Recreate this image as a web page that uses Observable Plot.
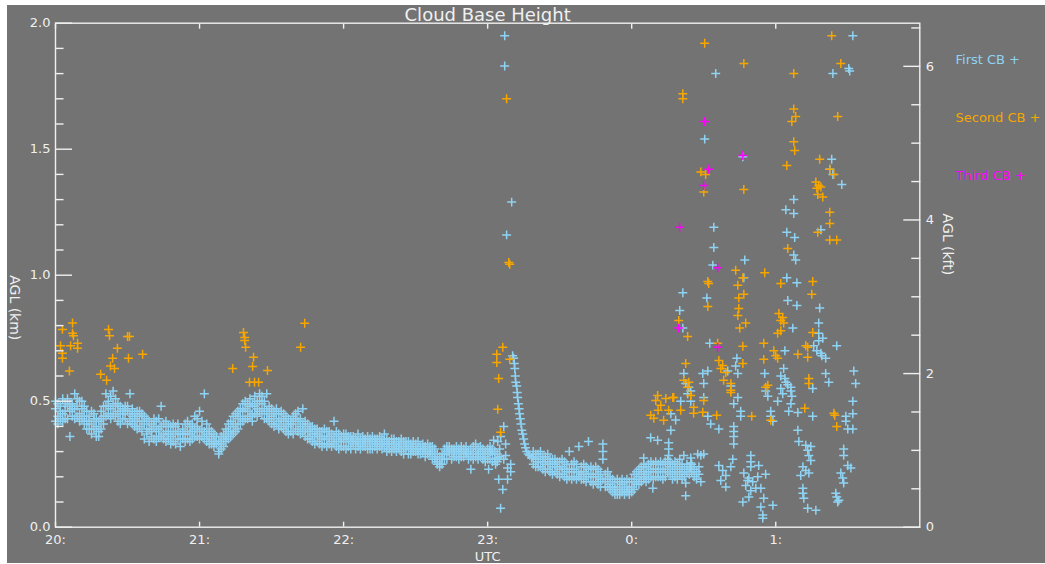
<!DOCTYPE html>
<html>
<head>
<meta charset="utf-8">
<script src="https://cdn.jsdelivr.net/npm/d3@7"></script>
<script src="https://cdn.jsdelivr.net/npm/@observablehq/plot@0.6"></script>
<style>
  html, body { margin: 0; background: #ffffff; }
  #chart { position: absolute; left: 7px; top: 5px; width: 1038px; height: 558px; background: #737373; }
  #chart svg { display: block; }
</style>
</head>
<body>
<div id="chart"></div>
<script>
// Ceilometer cloud-base heights. Time is minutes after 20:00 UTC, height is km AGL.

// Steady first cloud base: each row is [minute, readings logged in that minute...]
const firstCBRows = [
  [0,.47,.42,.50],[1,.44,.49,.41],[2,.48,.43,.46],[3,.51,.45,.42],[4,.46,.43,.49],
  [5,.43,.48,.51],[6,.46,.36,.49],[7,.49,.44,.47],[8,.53,.47,.43],[9,.48,.51,.44],
  [10,.45,.50,.42],[11,.47,.43,.50],[12,.44,.48,.41],[13,.46,.42,.39],[14,.44,.39,.42],
  [15,.41,.37,.46],[16,.43,.39,.45],[17,.40,.36,.43],[18,.38,.42,.36],[19,.43,.39,.46],
  [20,.44,.48,.41],[21,.48,.53,.44],[22,.50,.45,.48],[23,.47,.52,.43],[24,.54,.49,.45],
  [25,.48,.44,.51],[26,.46,.42,.49],[27,.45,.48,.41],[28,.47,.43,.45],[29,.43,.48,.46],
  [30,.46,.41,.48],[31,.53,.45,.42],[32,.44,.47,.41],[33,.45,.40,.43],[34,.42,.46,.39],
  [35,.44,.40,.46],[36,.42,.45,.38],[37,.41,.35,.44],[38,.39,.37,.43],[39,.42,.34,.39],
  [40,.38,.41,.36],[41,.40,.35,.43],[42,.38,.42,.34],[43,.39,.43,.36],[44,.48,.40,.36],
  [45,.37,.41,.35],[46,.38,.42,.34],[47,.40,.35,.37],[48,.36,.40,.33],[49,.38,.34,.41],
  [50,.37,.40,.33],[51,.35,.38,.41],[52,.32,.37,.35],[53,.39,.35,.37],[54,.34,.37,.41],
  [55,.38,.35,.42],[56,.37,.40,.34],[57,.41,.38,.35],[58,.44,.39,.36],[59,.40,.36,.43],
  [60,.46,.38,.35],[61,.39,.36,.42],[62,.53,.38,.35],[63,.37,.41,.34],[64,.36,.33,.39],
  [65,.35,.38,.33],[66,.34,.37,.32],[67,.36,.33,.34],[68,.30,.34,.29],[69,.33,.36,.31],
  [70,.35,.32,.37],[71,.36,.34,.39],[72,.38,.35,.41],[73,.38,.42,.36],[74,.40,.37,.44],
  [75,.41,.45,.38],[76,.43,.39,.46],[77,.44,.41,.47],[78,.46,.42,.49],[79,.43,.47,.50],
  [80,.46,.43,.49],[81,.48,.44,.51],[82,.45,.49,.42],[83,.48,.45,.52],[84,.47,.50,.44],
  [85,.50,.53,.46],[86,.49,.45,.52],[87,.47,.43,.50],[88,.53,.46,.43],[89,.45,.42,.48],
  [90,.44,.47,.41],[91,.43,.46,.40],[92,.45,.41,.47],[93,.42,.45,.39],[94,.43,.40,.46],
  [95,.42,.39,.45],[96,.41,.44,.38],[97,.40,.43,.37],[98,.42,.38,.41],[99,.41,.44,.37],
  [100,.43,.39,.45],[101,.42,.46,.38],[102,.40,.43,.37],[103,.47,.41,.38],[104,.39,.42,.36],
  [105,.38,.41,.35],[106,.38,.35,.40],[107,.37,.40,.34],[108,.36,.39,.33],[109,.37,.34,.39],
  [110,.36,.33,.38],[111,.35,.38,.32],[112,.36,.33,.39],[113,.35,.38,.32],[114,.36,.33,.38],
  [115,.37,.34,.32],[116,.42,.36,.33],[117,.35,.38,.32],[118,.34,.37,.31],[119,.36,.34,.32],
  [120,.35,.32,.37],[121,.34,.37,.31],[122,.35,.32,.36],[123,.34,.31,.36],[124,.33,.36,.34],
  [125,.35,.31,.34],[126,.34,.37,.32],[127,.33,.35,.31],[128,.34,.36,.32],[129,.35,.32,.34],
  [130,.34,.31,.36],[131,.33,.35,.31],[132,.34,.31,.36],[133,.35,.32,.34],[134,.33,.35,.31],
  [135,.34,.32,.36],[136,.33,.35,.31],[137,.37,.34,.32],[138,.33,.30,.35],[139,.34,.31,.33],
  [140,.32,.35,.30],[141,.33,.31,.35],[142,.32,.34,.30],[143,.31,.34,.32],[144,.33,.30,.35],
  [145,.32,.29,.34],[146,.31,.34,.32],[147,.32,.29,.34],[148,.31,.33,.29],[149,.32,.30,.34],
  [150,.30,.33,.31],[151,.31,.34,.29],[152,.32,.29,.31],[153,.30,.33,.31],[154,.31,.28,.32],
  [155,.30,.33,.29],[156,.29,.32,.30],[157,.30,.27,.32],[158,.28,.31,.27],[159,.26,.29,.25],
  [160,.25,.28,.24],[161,.27,.29,.25],[162,.29,.27,.31],[163,.30,.27,.32],[164,.29,.32,.30],
  [165,.30,.27,.31],[166,.31,.28,.30],[167,.30,.32,.28],[168,.29,.31,.27],[169,.30,.28,.32],
  [170,.31,.28,.30],[171,.29,.32,.30],[172,.30,.27,.29],[173,.23,.31,.28],[174,.29,.32,.27],
  [175,.33,.30,.28],[176,.29,.31,.27],[177,.30,.28,.32],[178,.29,.31,.27],[179,.28,.30,.26],
  [180,.29,.27,.31],[181,.30,.27,.32],[182,.29,.31,.26],[183,.30,.27],[184,.29,.26],[185,.31,.28],
  [199,.28,.25,.30],[200,.27,.24,.29],[201,.26,.29,.24],[202,.27,.24,.30],[203,.26,.23,.28],
  [204,.25,.28,.22],[205,.26,.23,.29],[206,.25,.22,.27],[207,.24,.27,.21],[208,.25,.22,.27],
  [209,.24,.21,.26],[210,.23,.26,.20],[211,.24,.21,.27],[212,.23,.26,.20],[213,.22,.25,.19],
  [214,.30,.23,.20],[215,.22,.25,.19],[216,.23,.20,.26],[217,.22,.19,.25],[218,.32,.22,.20],
  [219,.21,.24,.19],[220,.22,.19,.25],[221,.21,.24,.18],[222,.34,.20,.23],[223,.21,.18,.24],
  [224,.20,.23,.17],[225,.21,.18,.24],[226,.20,.23,.17],[227,.19,.22,.16],[228,.33,.30,.27,.19],
  [229,.18,.21,.16],[230,.19,.16,.22],[231,.17,.20,.15],[232,.16,.19,.14],[233,.15,.18,.13],
  [234,.16,.13,.19],[235,.15,.18,.13],[236,.14,.17,.19],[237,.15,.13,.18],[238,.16,.14,.19],
  [239,.15,.18,.13],[240,.16,.19,.14],[241,.18,.15,.21],[242,.19,.22,.17],[243,.20,.23,.17],
  [244,.21,.18,.24],[245,.22,.19,.25],[246,.21,.24,.18],[247,.22,.25,.19],[248,.23,.20,.26],
  [249,.22,.25,.19],[250,.23,.20,.26],[251,.22,.25,.20],[252,.23,.26,.20],[253,.22,.25,.19],
  [254,.23,.20,.26],[255,.22,.25,.27],[256,.21,.24,.26],[257,.22,.25,.19],[258,.23,.20,.26],
  [259,.22,.25,.19],[260,.21,.24,.27],[261,.22,.25,.19],[262,.23,.20],[263,.22,.25],
  [264,.21,.24],[265,.22,.25],[266,.23,.20],[267,.22,.19],[268,.21,.24]
];

// First cloud base when it breaks up: [minute, km]
const firstCBScattered = [
  [181.3,.30],[182.5,.345],[184.2,.34],[185.4,.36],[186.7,.40],[187.5,.33],[186.7,.27],[188.3,.235],
  [189.6,.22],[188.3,.19],[184.6,.19],[186.3,.15],[185.4,.075],[189.6,.25],[183.3,.25],[180.4,.23],
  [187.5,.285],[184.2,.275],
  [187.1,1.95],[187.1,1.83],[190,1.29],[187.9,1.16],
  [190.4,.68],[190.8,.67],[191.1,.65],[191.3,.63],[191.5,.60],[191.7,.575],[192.1,.56],[192.3,.535],
  [192.5,.515],[192.8,.49],[193.1,.47],[193.3,.45],[193.6,.43],[193.9,.41],[194.2,.385],[194.6,.37],
  [195,.35],[195.4,.33],[195.8,.315],[196.3,.30],[196.9,.29],[197.5,.285],[198.3,.275],
  [256.3,.385],[247.9,.355],[250.8,.345],[255.4,.335],[255.4,.31],[255.4,.285],[261.7,.285],
  [264.6,.275],[264.6,.255],[264.6,.24],[267.5,.29],[245,.275],[245,.24],[245,.20],[262.5,.175],
  [262.5,.125],[248.8,.155],[256.3,.45],[258.3,.425],[260.4,.50],[264.6,.50],
  [275,1.80],[270.4,1.54],[286.3,1.47],[332.1,1.95],[330.4,1.82],[330.8,1.81],[323.8,1.80],
  [323.3,1.46],[322.5,1.42],[323.8,1.40],[327.5,1.36],[307.5,1.30],
  [304.2,1.26],[307.5,1.245],[274.2,1.19],[318.8,1.18],[304.6,1.17],[307.9,1.15],[274.2,1.11],
  [307.5,1.08],[308.3,1.06],[287.1,1.06],[273.8,1.04],[286.7,.99],[304.6,.99],[308.8,.97],
  [261.3,.93],[271.3,.91],[260,.86],[305,.90],[308.8,.88],[318.3,.87],[261.3,.79],[307.1,.79],
  [317.9,.81],[317.9,.77],[317.9,.74],[319.6,.75],[325.4,.72],[315.8,.72],[318.8,.69],[320.8,.67],
  [317.1,.70],[319.2,.68],[272.5,.73],[303.8,.70],[283.8,.67],[283.3,.64],[332.5,.62],[303.3,.63],
  [295.4,.61],[261.7,.61],[269.6,.61],[271.7,.62],[280,.62],[284.2,.61],[302.1,.60],[304.2,.575],
  [306.3,.54],[302.9,.53],[303.8,.59],[305,.565],[320.8,.61],[333.3,.57],[322.1,.575],[262.5,.57],
  [264.6,.54],[263.3,.53],[263.8,.555],[270,.57],[295.8,.54],[315.4,.55],[270,.515],[284.2,.515],
  [281.3,.56],[302.1,.55],[306.3,.555],[306.7,.52],[282.5,.49],[296.7,.52],[300.8,.50],[306.3,.49],
  [271.7,.44],[285.4,.46],[285.4,.44],[297.9,.46],[297.9,.44],[298.8,.42],[305.4,.46],[309.2,.455],
  [315.4,.44],[332.1,.50],[332.1,.45],[329.2,.44],[329.2,.42],[330,.39],[332.1,.39],[272.9,.41],
  [276.3,.39],[282.5,.40],[282.5,.38],[282.5,.36],[282.5,.33],[309.2,.385],[309.6,.34],[312.5,.325],
  [313.3,.305],[313.8,.285],[314.6,.265],[314.6,.32],[328.3,.31],[328.3,.285],[270,.29],[282.1,.27],
  [289.6,.285],[289.6,.26],[289.6,.24],[292.9,.245],[276.3,.245],[277.9,.225],[279.2,.205],
  [277.1,.185],[281.3,.24],[268.8,.18],[279.2,.16],[286.7,.215],[288.8,.195],[290.4,.18],
  [287.5,.165],[291.7,.155],[289.6,.145],[292.5,.20],[288.3,.185],[295.8,.21],[293.8,.155],
  [288.8,.12],[286.3,.10],[295,.115],[293.8,.08],[298.8,.087],[294.6,.048],[294.6,.036],
  [311.3,.24],[312.5,.225],[313.8,.215],[310.4,.205],[311.3,.155],[311.3,.135],[311.7,.115],
  [313.3,.075],[316.7,.067],[330,.245],[331.3,.235],[327.1,.215],[327.9,.195],[328.3,.175],
  [325,.135],[325.4,.12],[326.3,.107],[325.8,.10],[268.8,.285]
];

// Second cloud base: [minute, km]
const secondCB = [
  [7.1,.81],[2.9,.785],[7.1,.77],[7.5,.76],[2.1,.72],[6.3,.72],[9.2,.73],[9.2,.71],[2.9,.69],
  [2.9,.67],[5.8,.62],[22.1,.785],[22.5,.76],[30,.757],[30.8,.757],[25.8,.71],[30.4,.67],
  [36.3,.686],[23.8,.67],[22.9,.64],[24.6,.63],[18.8,.607],[21.3,.583],[78.3,.773],[78.8,.753],
  [78.8,.741],[79.2,.714],[82.5,.674],[82.1,.638],[73.8,.63],[88.3,.622],[80.8,.575],[82.9,.575],
  [84.6,.575],[103.8,.809],[102.1,.714],
  [183.8,.686],[183.8,.654],[186.3,.714],[189.2,.666],[184.6,.59],[184.2,.468],[185.4,.377],
  [188.8,1.05],[189.2,1.043],[187.9,1.70],
  [270.4,1.92],[286.7,1.84],[261.3,1.72],[261.3,1.70],[268.8,1.41],[270.8,1.40],[270,1.33],
  [286.7,1.34],[323.3,1.95],[327.1,1.84],[307.5,1.80],[307.5,1.66],[308.3,1.63],[306.7,1.61],
  [325.8,1.63],[307.5,1.53],[307.9,1.495],[304.6,1.435],[318.3,1.46],[322.5,1.42],[324.2,1.40],
  [316.7,1.37],[317.9,1.356],[318.8,1.35],[317.1,1.345],[317.5,1.32],[319.6,1.31],[322.5,1.25],
  [322.5,1.205],[317.5,1.17],[322.5,1.14],[325.4,1.14],[305,1.106],[283.3,1.02],[295.4,1.01],
  [286.3,.99],[271.7,.975],[272.1,.967],[284.2,.96],[302.1,.967],[315.4,.975],[286.7,.924],
  [284.6,.91],[315,.924],[271.7,.876],[284.6,.868],[284.2,.84],[301.3,.848],[302.9,.832],
  [302.1,.82],[303.3,.81],[300.8,.77],[302.1,.78],[259.6,.82],[287.5,.81],[285,.79],[263.3,.757],
  [315.4,.773],[312.5,.72],[313.3,.714],[275.8,.73],[286.3,.718],[295,.73],[299.2,.70],[300,.68],
  [300.8,.67],[309.2,.686],[313.3,.674],[295,.666],[262.5,.65],[276.3,.662],[277.9,.642],
  [279.2,.614],[277.1,.63],[286.3,.65],[313.8,.59],[313.8,.57],[263.8,.575],[278.3,.583],
  [281.3,.57],[281.3,.543],[296.7,.563],[250.8,.523],[257.5,.515],[281.3,.535],[295.8,.555],
  [270,.503],[269.6,.456],[275.4,.444],[290,.44],[297.9,.424],[312.1,.472],[324.2,.452],
  [324.6,.444],[325.4,.40],[247.9,.444],[253.3,.424],[257.1,.515],[260.4,.464],[265.8,.476],
  [265.8,.452],[261.7,.583],[263.3,.555],[264.6,.523],[250,.503],[252.1,.484],[254.2,.511],
  [255.4,.464],[251,.464],[249.2,.432]
];

// Third cloud base: [minute, km]
const thirdCB = [
  [270.4,1.61],[286.3,1.475],[272.1,1.42],[270,1.356],[260,1.19],[275.8,1.03],[259.6,.79],[275.8,.714]
];

// Axis ticks and labels
const hourTicks = [0, 60, 120, 180, 240, 300];
const hourLabels = ["20:", "21:", "22:", "23:", "0:", "1:"];
const kmTicks = [0, 0.5, 1, 1.5, 2];
const kmMinorTicks = [0.1,0.2,0.3,0.4,0.6,0.7,0.8,0.9,1.1,1.2,1.3,1.4,1.6,1.7,1.8,1.9];
const kftTicks = [0, 2, 4, 6];
const kftMinorTicks = [0.5,1,1.5,2.5,3,3.5,4.5,5,5.5,6.5];
const legendNames = ["First CB +", "Second CB +", "Third CB +"];

const KFT_PER_KM = 3.28084;
const ink = "#f0f0f0";
const colors = ["#8fd3f4", "#f7a600", "#ff00ff"];
const font = "DejaVu Sans, sans-serif";

const toPoint = ([t, h]) => ({t, h});
const first = [
  ...firstCBRows.flatMap(([t, ...hs]) => hs.map(h => ({t, h}))),
  ...firstCBScattered.map(toPoint)
];
const second = secondCB.map(toPoint);
const third = thirdCB.map(toPoint);

const crosses = (data, color) =>
  Plot.dot(data, {x: "t", y: "h", symbol: "plus", r: 3, stroke: color, strokeWidth: 1.5});

const tickLine = {fill: "none", stroke: ink, strokeWidth: 1.4};
const toKm = k => k / KFT_PER_KM;

const chart = Plot.plot({
  width: 1038,
  height: 558,
  marginLeft: 48,
  marginRight: 125.7,
  marginTop: 17.7,
  marginBottom: 36.3,
  style: {background: "transparent", color: ink, fontFamily: font, fontSize: "13px"},
  x: {domain: [0, 360]},
  y: {domain: [0, 2]},
  marks: [
    crosses(first, colors[0]),
    crosses(second, colors[1]),
    crosses(third, colors[2]),
    Plot.frame({stroke: ink, strokeWidth: 1.4}),

    // left axis, km
    Plot.axisY(kmTicks, {anchor: "left", tickSize: -17, ...tickLine}),
    Plot.axisY(kmMinorTicks, {anchor: "left", tickSize: -8.5, ...tickLine}),
    Plot.axisY(kmTicks, {anchor: "left", tickSize: 0, tickPadding: 5, label: null,
      tickFormat: d3.format(".1f"), fill: ink, fontSize: 13}),

    // right axis, kft
    Plot.axisY(kftTicks.map(toKm), {anchor: "right", tickSize: -17, ...tickLine}),
    Plot.axisY(kftMinorTicks.map(toKm), {anchor: "right", tickSize: -9, ...tickLine}),
    Plot.axisY(kftTicks.map(toKm), {anchor: "right", tickSize: 0, tickPadding: 6, label: null,
      tickFormat: d => String(Math.round(d * KFT_PER_KM)), fill: ink, fontSize: 13}),

    // time axes
    Plot.axisX(hourTicks, {anchor: "bottom", tickSize: -5, ...tickLine}),
    Plot.axisX(hourTicks, {anchor: "top", tickSize: -5, ...tickLine}),
    Plot.axisX(hourTicks, {anchor: "bottom", tickSize: 0, tickPadding: 8, label: null,
      tickFormat: d => hourLabels[hourTicks.indexOf(d)], fill: ink, fontSize: 13}),

    // titles
    Plot.text(["Cloud Base Height"], {frameAnchor: "top", dy: -15.2, lineAnchor: "top",
      fontSize: 18, fill: ink}),
    Plot.text(["AGL (km)"], {frameAnchor: "left", dx: -41, rotate: 90, fontSize: 14, fill: ink}),
    Plot.text(["AGL (kft)"], {frameAnchor: "right", dx: 28, rotate: 90, fontSize: 14, fill: ink}),
    Plot.text(["UTC"], {frameAnchor: "bottom", dy: 24.5, lineAnchor: "top", fontSize: 13, fill: ink}),

    // legend
    ...legendNames.map((name, i) =>
      Plot.text([name], {frameAnchor: "top-right", textAnchor: "start", dx: 35.7,
        dy: 31.3 + 58 * i, fontSize: 13, fill: colors[i]}))
  ]
});

document.getElementById("chart").append(chart);
</script>
</body>
</html>
